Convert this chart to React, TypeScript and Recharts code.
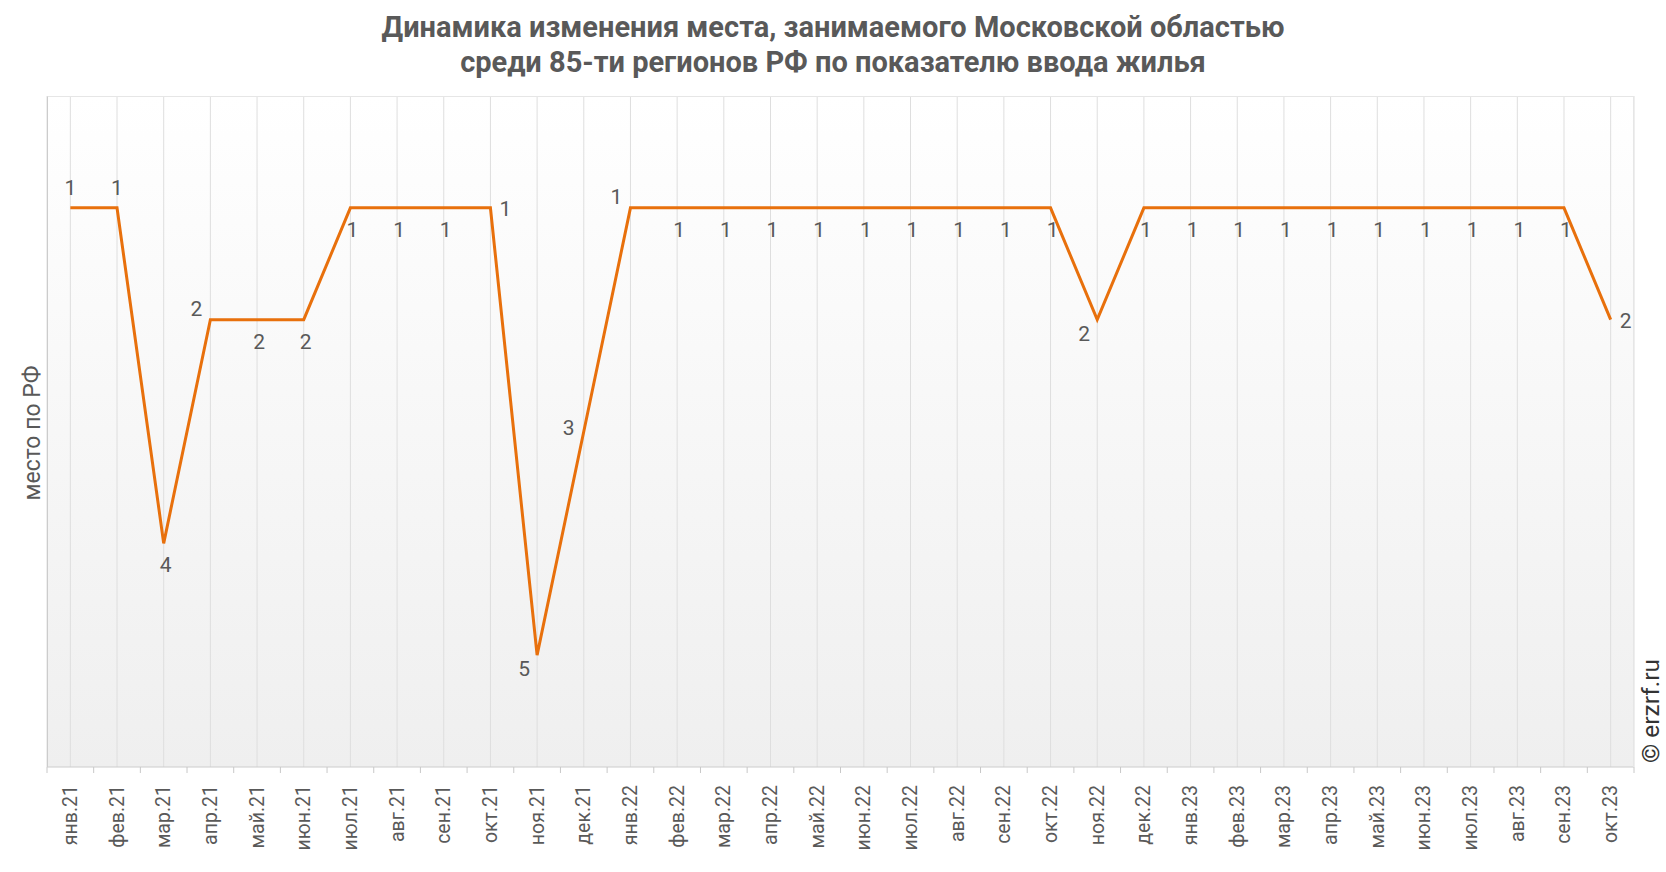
import { LineChart, Line, XAxis, YAxis, CartesianGrid, LabelList } from 'recharts';

const months = [
  'янв.21', 'фев.21', 'мар.21', 'апр.21', 'май.21', 'июн.21', 'июл.21', 'авг.21', 'сен.21', 'окт.21', 'ноя.21', 'дек.21',
  'янв.22', 'фев.22', 'мар.22', 'апр.22', 'май.22', 'июн.22', 'июл.22', 'авг.22', 'сен.22', 'окт.22', 'ноя.22', 'дек.22',
  'янв.23', 'фев.23', 'мар.23', 'апр.23', 'май.23', 'июн.23', 'июл.23', 'авг.23', 'сен.23', 'окт.23',
];

const places = [
  1, 1, 4, 2, 2, 2, 1, 1, 1, 1, 5, 3,
  1, 1, 1, 1, 1, 1, 1, 1, 1, 1, 2, 1,
  1, 1, 1, 1, 1, 1, 1, 1, 1, 2,
];

// where each value label sits relative to its point
const labelSide = [
  'top', 'top', 'bottom', 'topLeft', 'bottom', 'bottom', 'bottom', 'bottom', 'bottom', 'right', 'bottomLeft', 'left',
  'topLeft', 'bottom', 'bottom', 'bottom', 'bottom', 'bottom', 'bottom', 'bottom', 'bottom', 'bottom', 'bottomLeft', 'bottom',
  'bottom', 'bottom', 'bottom', 'bottom', 'bottom', 'bottom', 'bottom', 'bottom', 'bottom', 'right',
];

const data = months.map((m, i) => ({ month: m, place: places[i] }));

// ─── Layout ──────────────────────────────────────────────
const W = 1666;
const H = 872;
const PLOT_L = 47;
const PLOT_R = 1634;
const PLOT_T = 96;
const PLOT_B = 767;
const STEP = (PLOT_R - PLOT_L) / months.length;

const TEXT = '#595959';
const LINE = '#E8700C';
const FONT = 'Roboto, sans-serif';

const offsets: Record<string, [number, number]> = {
  top: [0, -20],
  bottom: [2, 22],
  right: [15, 1],
  left: [-15, -4],
  topLeft: [-14, -11],
  bottomLeft: [-13, 14],
};

function ValueLabel(props: any) {
  const { x, y, value, index } = props;
  const [dx, dy] = offsets[labelSide[index]] || [0, 0];
  return (
    <text
      x={x + dx}
      y={y + dy}
      textAnchor="middle"
      dominantBaseline="central"
      fontFamily={FONT}
      fontSize={21}
      fill={TEXT}
    >
      {value}
    </text>
  );
}

function MonthTick(props: any) {
  const { x, y, payload, index } = props;
  const isLast = index === months.length - 1;
  return (
    <g>
      <line x1={x - STEP / 2} x2={x - STEP / 2} y1={PLOT_B} y2={PLOT_B + 6} stroke="#c8c8c8" />
      {isLast && (
        <line x1={x + STEP / 2} x2={x + STEP / 2} y1={PLOT_B} y2={PLOT_B + 6} stroke="#c8c8c8" />
      )}
      <text
        transform={`translate(${x}, ${y + 10}) rotate(-90)`}
        textAnchor="end"
        dominantBaseline="central"
        fontFamily={FONT}
        fontSize={19.5}
        fill={TEXT}
      >
        {payload.value}
      </text>
    </g>
  );
}

export default function App() {
  return (
    <div style={{ position: 'absolute', left: 0, top: 0, width: W, height: H, background: '#fff' }}>
      {/* Title */}
      <div
        style={{
          position: 'absolute',
          left: 0,
          top: 10,
          width: W,
          textAlign: 'center',
          fontFamily: FONT,
          fontWeight: 700,
          fontSize: 29,
          lineHeight: '35px',
          color: TEXT,
        }}
      >
        Динамика изменения места, занимаемого Московской областью
        <br />
        среди 85-ти регионов РФ по показателю ввода жилья
      </div>

      <LineChart
        width={W}
        height={H}
        data={data}
        margin={{ top: PLOT_T, left: PLOT_L, right: W - PLOT_R, bottom: 0 }}
      >
        <defs>
          <linearGradient id="plotBg" x1="0" y1="0" x2="0" y2="1">
            <stop offset="0%" stopColor="#ffffff" />
            <stop offset="100%" stopColor="#efefef" />
          </linearGradient>
        </defs>
        <CartesianGrid
          horizontal={false}
          vertical
          stroke="#dedede"
          fill="url(#plotBg)"
          fillOpacity={1}
        />
        <XAxis
          dataKey="month"
          height={H - PLOT_B}
          padding={{ left: STEP / 2, right: STEP / 2 }}
          interval={0}
          tickLine={false}
          axisLine={{ stroke: '#cccccc' }}
          tick={<MonthTick />}
        />
        <YAxis hide reversed domain={[0, 6]} type="number" />
        <Line
          type="linear"
          dataKey="place"
          stroke={LINE}
          strokeWidth={3}
          dot={false}
          isAnimationActive={false}
        >
          <LabelList dataKey="place" content={<ValueLabel />} />
        </Line>
      </LineChart>

      {/* Plot frame */}
      <div
        style={{
          position: 'absolute',
          left: PLOT_L,
          top: PLOT_T,
          width: PLOT_R - PLOT_L,
          height: PLOT_B - PLOT_T,
          borderTop: '1px solid #e6e6e6',
          borderRight: '1px solid #e6e6e6',
          borderLeft: '1px solid #cccccc',
          boxSizing: 'border-box',
          pointerEvents: 'none',
        }}
      />

      {/* Y axis title */}
      <div
        style={{
          position: 'absolute',
          left: 32,
          top: 433,
          transform: 'translate(-50%, -50%) rotate(-90deg)',
          whiteSpace: 'nowrap',
          fontFamily: FONT,
          fontSize: 23,
          color: TEXT,
        }}
      >
        место по РФ
      </div>

      {/* Watermark */}
      <div
        style={{
          position: 'absolute',
          left: 1650,
          top: 711,
          transform: 'translate(-50%, -50%) rotate(-90deg)',
          whiteSpace: 'nowrap',
          fontFamily: FONT,
          fontSize: 24.5,
          color: '#333',
        }}
      >
        © erzrf.ru
      </div>
    </div>
  );
}
